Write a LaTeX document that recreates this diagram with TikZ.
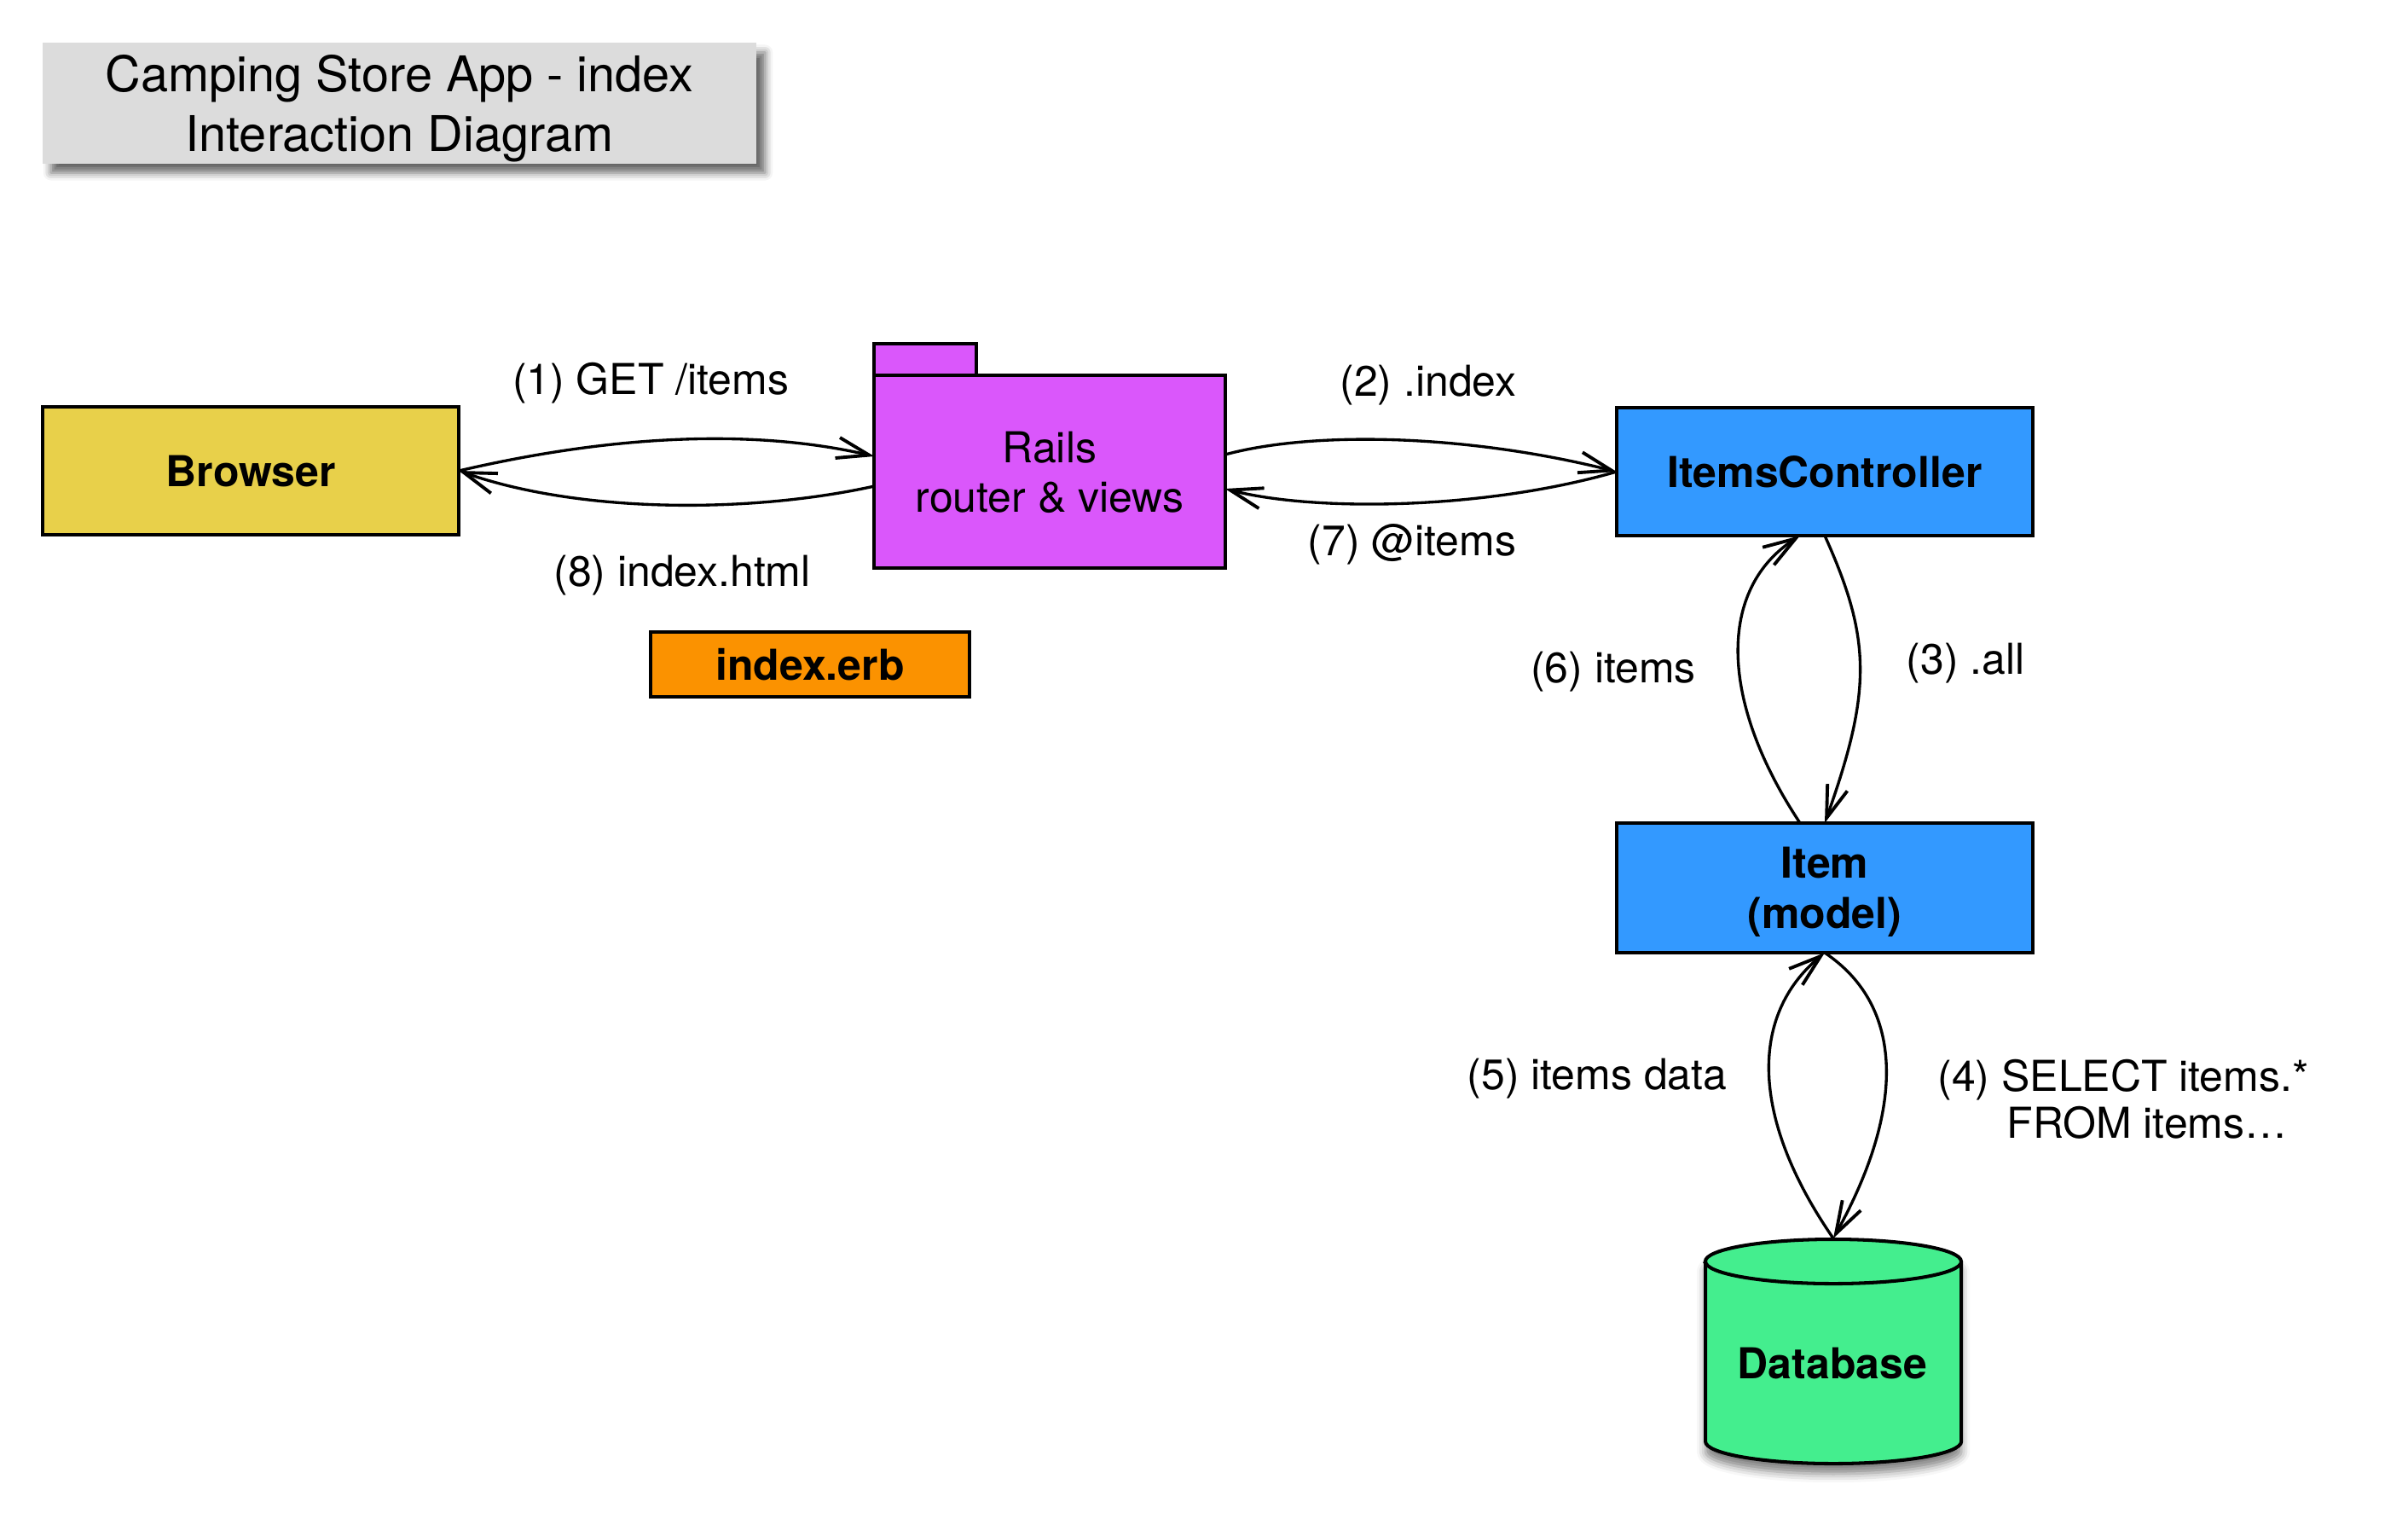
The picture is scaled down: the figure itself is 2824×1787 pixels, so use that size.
\documentclass[tikz,border=0pt]{standalone}
\usepackage{fontspec}
\setmainfont{TeX Gyre Heros}
\usetikzlibrary{arrows.meta,shadows.blur}

\definecolor{titlegray}{HTML}{DCDCDC}
\definecolor{browserfill}{HTML}{E8D04A}
\definecolor{railsfill}{HTML}{DA57FB}
\definecolor{erbfill}{HTML}{FB9200}
\definecolor{classblue}{HTML}{3399FF}
\definecolor{dbfill}{HTML}{44EE8E}

\begin{document}
\begin{tikzpicture}[x=0.01cm,y=-0.01cm,
  box/.style={draw=black, line width=1.15pt, inner sep=0pt, outer sep=0pt,
    align=center, text depth=0pt,
    font=\fontsize{14.2pt}{16.8pt}\selectfont\bfseries},
  msg/.style={line width=0.95pt,
    -{Straight Barb[length=10.8pt,width=7pt,line width=1.1pt]}},
  lbl/.style={inner sep=0pt, align=center, text depth=0pt,
    font=\fontsize{14.2pt}{16.5pt}\selectfont}]

\useasboundingbox (0,0) rectangle (2824,1787);

% title card
\node[fill=titlegray, minimum width=8.37cm, minimum height=1.41cm,
  inner sep=0pt, align=center, text depth=0pt,
  blur shadow={shadow xshift=0.1cm, shadow yshift=-0.11cm,
    shadow blur radius=0.09cm, shadow opacity=60},
  font=\fontsize{16.4pt}{19.9pt}\selectfont]
  (title) at (468.5,121) {Camping Store App - index\\Interaction Diagram};

% components
\node[box, fill=browserfill, minimum width=4.88cm, minimum height=1.5cm]
  (browser) at (294,552) {Browser};
\node[box, fill=railsfill, minimum width=4.11cm, minimum height=2.26cm,
  font=\fontsize{14.2pt}{16.5pt}\selectfont]
  (rails) at (1231,553) {Rails\\router \& views};
\node[box, fill=railsfill, minimum width=1.2cm, minimum height=0.37cm,
  anchor=south west] (railstab) at (rails.north west) {};
\node[box, fill=erbfill, minimum width=3.74cm, minimum height=0.76cm]
  (erb) at (950,779) {index.erb};
\node[box, fill=classblue, minimum width=4.88cm, minimum height=1.5cm]
  (ic) at (2140,553) {ItemsController};
\node[box, fill=classblue, minimum width=4.88cm, minimum height=1.52cm]
  (item) at (2140,1041) {Item\\(model)};

% database cylinder
\node[minimum width=3cm, minimum height=2.64cm, inner sep=0pt, outer sep=0pt]
  (db) at (2150,1584) {};
\path[fill=dbfill, draw=black, line width=1.15pt,
  blur shadow={shadow xshift=0cm, shadow yshift=-0.12cm,
    shadow blur radius=0.1cm, shadow opacity=50}]
  (2000,1479) -- (2000,1690)
  arc[start angle=180, end angle=360, x radius=1.5cm, y radius=0.26cm]
  -- (2300,1479)
  arc[start angle=0, end angle=180, x radius=1.5cm, y radius=0.26cm] -- cycle;
\draw[line width=1.15pt] (2000,1479)
  arc[start angle=180, end angle=360, x radius=1.5cm, y radius=0.26cm];
\node[font=\fontsize{14.2pt}{16.8pt}\selectfont\bfseries, inner sep=0pt]
  (dblabel) at (2149,1598) {Database};

% messages
\draw[msg] (browser.east) .. controls (740,505) and (900,506)
  .. ([yshift=0.18cm]rails.west);
\draw[msg] ([yshift=-0.17cm]rails.west) .. controls (880,602) and (680,602)
  .. (browser.east);
\draw[msg] ([yshift=0.20cm]rails.east) .. controls (1540,505) and (1720,509)
  .. (ic.west);
\draw[msg] (ic.west) .. controls (1740,598) and (1540,600)
  .. ([yshift=-0.20cm]rails.east);
\draw[msg] (ic.south) .. controls (2195,750) and (2195,810) .. (item.north);
\draw[msg] ([xshift=-0.29cm]item.north) .. controls (2015,820) and (2015,690)
  .. ([xshift=-0.29cm]ic.south);
\draw[msg] (item.south) .. controls (2234,1180) and (2234,1300) .. (db.north);
\draw[msg] (db.north) .. controls (2052,1310) and (2052,1190) .. (item.south);

% message labels
\node[lbl] (l1) at (763,444) {(1) GET /items};
\node[lbl] (l8) at (800,669) {(8) index.html};
\node[lbl] (l2) at (1675,446) {(2) .index};
\node[lbl] (l7) at (1656,633) {(7) @items};
\node[lbl] (l6) at (1892,782) {(6) items};
\node[lbl] (l3) at (2305,772) {(3) .all};
\node[lbl] (l5) at (1873,1259) {(5) items data};
\node[lbl, font=\fontsize{14.2pt}{15.7pt}\selectfont]
  (l4) at (2490,1288) {(4) SELECT items.*\\\hspace*{0.56cm}FROM items…};

\end{tikzpicture}
\end{document}
